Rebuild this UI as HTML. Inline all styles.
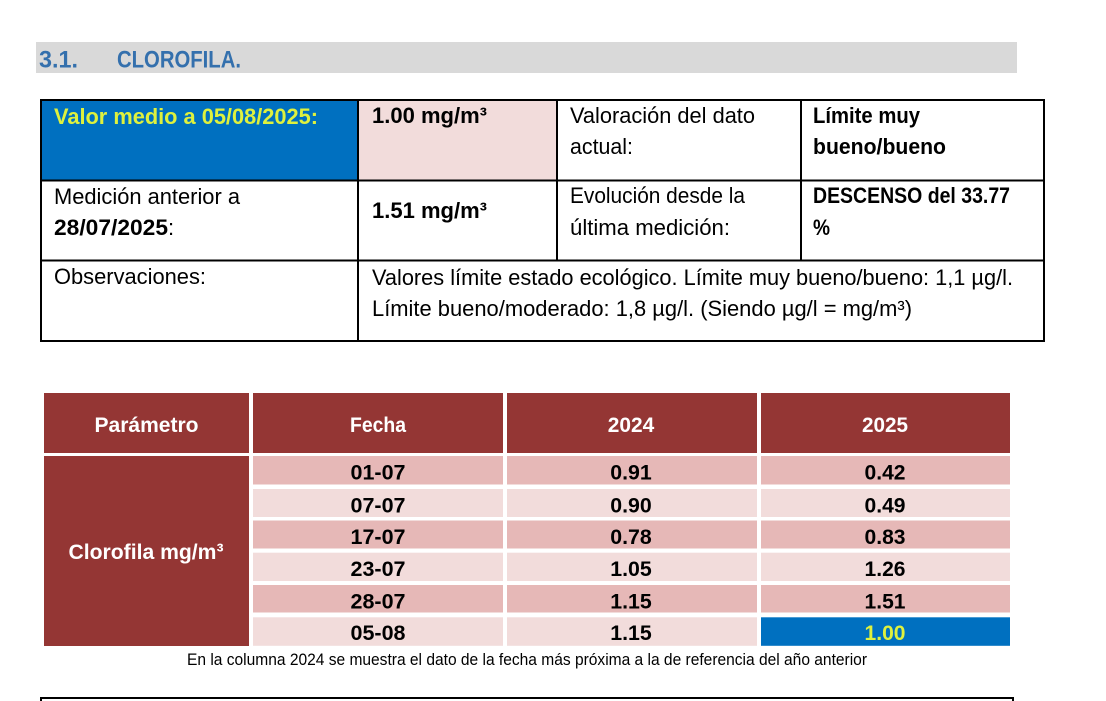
<!DOCTYPE html>
<html>
<head>
<meta charset="utf-8">
<style>
  html,body{margin:0;padding:0;background:#fff;}
  svg{display:block;}
  text{font-family:"Liberation Sans", Arial, sans-serif;}
  .b{font-weight:bold;}
</style>
</head>
<body>
<svg width="1106" height="701" viewBox="0 0 1106 701" xmlns="http://www.w3.org/2000/svg">
  <rect x="0" y="0" width="1106" height="701" fill="#ffffff"/>

  <!-- Title bar -->
  <rect x="36" y="42" width="981" height="31" fill="#d9d9d9"/>
  <text class="b" x="39" y="67.5" font-size="24.5" fill="#3470ad" textLength="39" lengthAdjust="spacingAndGlyphs">3.1.</text>
  <text class="b" x="117" y="67.5" font-size="24.5" fill="#3470ad" textLength="124" lengthAdjust="spacingAndGlyphs">CLOROFILA.</text>

  <!-- Top table fills -->
  <rect x="41" y="100" width="317" height="80.5" fill="#0070c0"/>
  <rect x="358" y="100" width="199" height="80.5" fill="#f2dcdb"/>

  <!-- Top table lines -->
  <g stroke="#000" stroke-width="2" fill="none">
    <line x1="40" y1="100" x2="1045" y2="100"/>
    <line x1="40" y1="180.5" x2="1045" y2="180.5"/>
    <line x1="40" y1="260.5" x2="1045" y2="260.5"/>
    <line x1="40" y1="341" x2="1045" y2="341"/>
    <line x1="41" y1="99" x2="41" y2="342"/>
    <line x1="358" y1="99" x2="358" y2="342"/>
    <line x1="557" y1="99" x2="557" y2="261"/>
    <line x1="801" y1="99" x2="801" y2="261"/>
    <line x1="1044" y1="99" x2="1044" y2="342"/>
  </g>

  <!-- Row 1 -->
  <text class="b" x="54" y="124" font-size="22" fill="#def13e" textLength="264" lengthAdjust="spacingAndGlyphs">Valor medio a 05/08/2025:</text>
  <text class="b" x="372" y="123" font-size="22" fill="#000" textLength="115" lengthAdjust="spacingAndGlyphs">1.00 mg/m³</text>
  <text x="570" y="123" font-size="22" fill="#000" textLength="185" lengthAdjust="spacingAndGlyphs">Valoración del dato</text>
  <text x="570" y="154" font-size="22" fill="#000" textLength="63" lengthAdjust="spacingAndGlyphs">actual:</text>
  <text class="b" x="813" y="123" font-size="22" fill="#000" textLength="107" lengthAdjust="spacingAndGlyphs">Límite muy</text>
  <text class="b" x="813" y="154" font-size="22" fill="#000" textLength="133" lengthAdjust="spacingAndGlyphs">bueno/bueno</text>

  <!-- Row 2 -->
  <text x="54" y="204" font-size="22" fill="#000" textLength="186" lengthAdjust="spacingAndGlyphs">Medición anterior a</text>
  <text class="b" x="54" y="235" font-size="22" fill="#000" textLength="114" lengthAdjust="spacingAndGlyphs">28/07/2025</text>
  <text x="168" y="235" font-size="22" fill="#000">:</text>
  <text class="b" x="372" y="218" font-size="22" fill="#000" textLength="115" lengthAdjust="spacingAndGlyphs">1.51 mg/m³</text>
  <text x="570" y="203" font-size="22" fill="#000" textLength="175" lengthAdjust="spacingAndGlyphs">Evolución desde la</text>
  <text x="570" y="235" font-size="22" fill="#000" textLength="160" lengthAdjust="spacingAndGlyphs">última medición:</text>
  <text class="b" x="813" y="203" font-size="22" fill="#000" textLength="197" lengthAdjust="spacingAndGlyphs">DESCENSO del 33.77</text>
  <text class="b" x="813" y="235" font-size="22" fill="#000" textLength="17" lengthAdjust="spacingAndGlyphs">%</text>

  <!-- Row 3 -->
  <text x="54" y="284" font-size="22" fill="#000" textLength="152" lengthAdjust="spacingAndGlyphs">Observaciones:</text>
  <text x="372" y="285" font-size="22" fill="#000" textLength="641" lengthAdjust="spacingAndGlyphs">Valores límite estado ecológico. Límite muy bueno/bueno: 1,1 µg/l.</text>
  <text x="372" y="316" font-size="22" fill="#000" textLength="540" lengthAdjust="spacingAndGlyphs">Límite bueno/moderado: 1,8 µg/l. (Siendo µg/l = mg/m³)</text>

  <!-- Bottom table header -->
  <g fill="#943634">
    <rect x="44" y="393" width="205" height="60"/>
    <rect x="253" y="393" width="250" height="60"/>
    <rect x="507" y="393" width="250" height="60"/>
    <rect x="761" y="393" width="249" height="60"/>
    <rect x="44" y="456" width="205" height="190"/>
  </g>
  <text class="b" x="146.5" y="432" font-size="21.5" fill="#fff" text-anchor="middle" textLength="104" lengthAdjust="spacingAndGlyphs">Parámetro</text>
  <text class="b" x="378" y="432" font-size="21.5" fill="#fff" text-anchor="middle" textLength="56" lengthAdjust="spacingAndGlyphs">Fecha</text>
  <text class="b" x="631" y="432" font-size="21.5" fill="#fff" text-anchor="middle" textLength="46.5" lengthAdjust="spacingAndGlyphs">2024</text>
  <text class="b" x="885" y="432" font-size="21.5" fill="#fff" text-anchor="middle" textLength="46" lengthAdjust="spacingAndGlyphs">2025</text>
  <text class="b" x="146" y="559" font-size="21.5" fill="#fff" text-anchor="middle" textLength="155" lengthAdjust="spacingAndGlyphs">Clorofila mg/m³</text>

  <!-- Data rows -->
  <g>
    <rect x="253" y="456" width="250" height="28.5" fill="#e6b8b7"/>
    <rect x="507" y="456" width="250" height="28.5" fill="#e6b8b7"/>
    <rect x="761" y="456" width="249" height="28.5" fill="#e6b8b7"/>
    <rect x="253" y="489" width="250" height="28" fill="#f2dcdb"/>
    <rect x="507" y="489" width="250" height="28" fill="#f2dcdb"/>
    <rect x="761" y="489" width="249" height="28" fill="#f2dcdb"/>
    <rect x="253" y="520.5" width="250" height="28" fill="#e6b8b7"/>
    <rect x="507" y="520.5" width="250" height="28" fill="#e6b8b7"/>
    <rect x="761" y="520.5" width="249" height="28" fill="#e6b8b7"/>
    <rect x="253" y="552.7" width="250" height="28.3" fill="#f2dcdb"/>
    <rect x="507" y="552.7" width="250" height="28.3" fill="#f2dcdb"/>
    <rect x="761" y="552.7" width="249" height="28.3" fill="#f2dcdb"/>
    <rect x="253" y="585" width="250" height="27.5" fill="#e6b8b7"/>
    <rect x="507" y="585" width="250" height="27.5" fill="#e6b8b7"/>
    <rect x="761" y="585" width="249" height="27.5" fill="#e6b8b7"/>
    <rect x="253" y="617.3" width="250" height="28.5" fill="#f2dcdb"/>
    <rect x="507" y="617.3" width="250" height="28.5" fill="#f2dcdb"/>
    <rect x="761" y="617.3" width="249" height="28.5" fill="#0070c0"/>
  </g>

  <g font-size="21.5" fill="#000" text-anchor="middle">
    <text class="b" x="378" y="479.5" textLength="55" lengthAdjust="spacingAndGlyphs">01-07</text>
    <text class="b" x="631" y="479.5" textLength="41.5" lengthAdjust="spacingAndGlyphs">0.91</text>
    <text class="b" x="885" y="479.5" textLength="41" lengthAdjust="spacingAndGlyphs">0.42</text>

    <text class="b" x="378" y="512.5" textLength="55" lengthAdjust="spacingAndGlyphs">07-07</text>
    <text class="b" x="631" y="512.5" textLength="41.5" lengthAdjust="spacingAndGlyphs">0.90</text>
    <text class="b" x="885" y="512.5" textLength="41" lengthAdjust="spacingAndGlyphs">0.49</text>

    <text class="b" x="378" y="544" textLength="55" lengthAdjust="spacingAndGlyphs">17-07</text>
    <text class="b" x="631" y="544" textLength="41.5" lengthAdjust="spacingAndGlyphs">0.78</text>
    <text class="b" x="885" y="544" textLength="41" lengthAdjust="spacingAndGlyphs">0.83</text>

    <text class="b" x="378" y="576.2" textLength="55" lengthAdjust="spacingAndGlyphs">23-07</text>
    <text class="b" x="631" y="576.2" textLength="41.5" lengthAdjust="spacingAndGlyphs">1.05</text>
    <text class="b" x="885" y="576.2" textLength="41" lengthAdjust="spacingAndGlyphs">1.26</text>

    <text class="b" x="378" y="608.5" textLength="55" lengthAdjust="spacingAndGlyphs">28-07</text>
    <text class="b" x="631" y="608.5" textLength="41.5" lengthAdjust="spacingAndGlyphs">1.15</text>
    <text class="b" x="885" y="608.5" textLength="41" lengthAdjust="spacingAndGlyphs">1.51</text>

    <text class="b" x="378" y="640.2" textLength="55" lengthAdjust="spacingAndGlyphs">05-08</text>
    <text class="b" x="631" y="640.2" textLength="41.5" lengthAdjust="spacingAndGlyphs">1.15</text>
    <text class="b" x="885" y="640.2" textLength="41" lengthAdjust="spacingAndGlyphs" fill="#def13e">1.00</text>
  </g>

  <!-- Caption -->
  <text x="187" y="665" font-size="16.2" fill="#000" textLength="680" lengthAdjust="spacingAndGlyphs">En la columna 2024 se muestra el dato de la fecha más próxima a la de referencia del año anterior</text>

  <!-- Bottom box start -->
  <g stroke="#000" stroke-width="2" fill="none">
    <line x1="40" y1="698" x2="1014" y2="698"/>
    <line x1="41" y1="697" x2="41" y2="701"/>
    <line x1="1013" y1="697" x2="1013" y2="701"/>
  </g>
</svg>
</body>
</html>
